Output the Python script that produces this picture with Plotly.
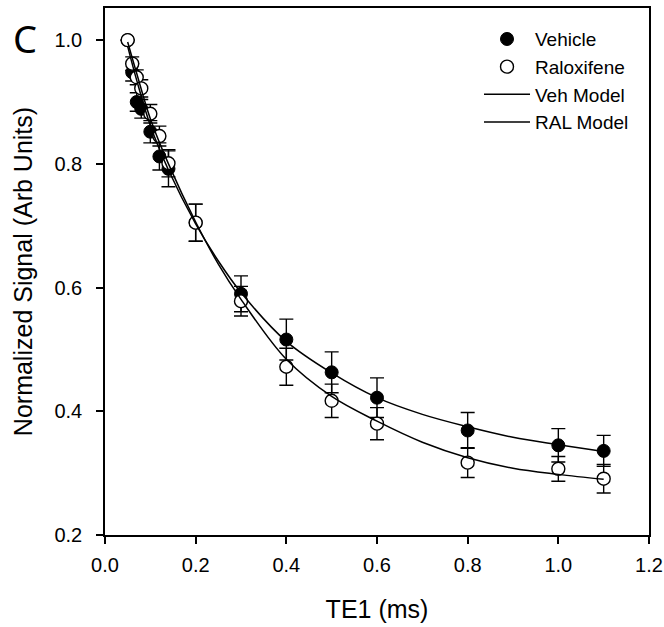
import plotly.graph_objects as go

# measured data
te = [0.05, 0.06, 0.07, 0.08, 0.1, 0.12, 0.14, 0.2, 0.3, 0.4, 0.5, 0.6, 0.8, 1.0, 1.1]
veh = [1.0, 0.948, 0.900, 0.889, 0.852, 0.812, 0.792, 0.705, 0.590, 0.516, 0.463, 0.422, 0.369, 0.345, 0.336]
veh_err = [0.0, 0.014, 0.015, 0.015, 0.018, 0.022, 0.029, 0.030, 0.029, 0.033, 0.033, 0.032, 0.029, 0.027, 0.025]
ral = [1.0, 0.962, 0.940, 0.922, 0.881, 0.845, 0.801, 0.705, 0.578, 0.472, 0.417, 0.380, 0.317, 0.307, 0.291]
ral_err = [0.0, 0.011, 0.012, 0.014, 0.015, 0.016, 0.022, 0.030, 0.024, 0.030, 0.027, 0.026, 0.024, 0.020, 0.023]

# model curves
model_te = [0.05, 0.07, 0.1, 0.14, 0.2, 0.25, 0.3, 0.4, 0.5, 0.6, 0.7, 0.8, 0.9, 1.0, 1.1]
veh_model = [0.990, 0.935, 0.862, 0.790, 0.703, 0.643, 0.592, 0.513, 0.462, 0.422, 0.395, 0.375, 0.358, 0.346, 0.335]
ral_model = [0.997, 0.946, 0.873, 0.800, 0.706, 0.638, 0.581, 0.484, 0.424, 0.384, 0.350, 0.325, 0.308, 0.298, 0.290]

FONT = "Arial, Liberation Sans, sans-serif"
err_style = dict(type="data", thickness=1.4, width=7, color="black")

fig = go.Figure()
fig.add_trace(go.Scatter(
    x=te, y=veh, mode="markers", name="Vehicle",
    error_y=dict(array=veh_err, **err_style),
    marker=dict(symbol="circle", size=13, color="black", line=dict(color="black", width=1)),
))
fig.add_trace(go.Scatter(
    x=te, y=ral, mode="markers", name="Raloxifene",
    error_y=dict(array=ral_err, **err_style),
    marker=dict(symbol="circle", size=13, color="white", line=dict(color="black", width=1.4)),
))
fig.add_trace(go.Scatter(
    x=model_te, y=veh_model, mode="lines", name="Veh Model",
    line=dict(color="black", width=1.5, shape="spline"),
))
fig.add_trace(go.Scatter(
    x=model_te, y=ral_model, mode="lines", name="RAL Model",
    line=dict(color="black", width=1.5, shape="spline"),
))

axis_style = dict(
    showline=True, linecolor="black", linewidth=1.5, mirror=True,
    ticks="outside", ticklen=7, tickwidth=1.5, tickcolor="black",
    showgrid=False, zeroline=False, automargin=False,
    tickfont=dict(family=FONT, size=20, color="black"),
)

fig.update_layout(
    width=664, height=627,
    paper_bgcolor="white", plot_bgcolor="white",
    font=dict(family=FONT, color="black"),
    margin=dict(l=105, r=15, t=8, b=92),
    xaxis=dict(range=[0, 1.2], dtick=0.2, tickformat=".1f", ticklabelstandoff=4,
               title=dict(text="TE1 (ms)", font=dict(size=25), standoff=26), **axis_style),
    yaxis=dict(range=[0.2, 1.052], tickvals=[0.2, 0.4, 0.6, 0.8, 1.0], tickformat=".1f",
               ticklabelstandoff=10,
               title=dict(text="Normalized Signal (Arb Units)", font=dict(size=25), standoff=15),
               **axis_style),
    legend=dict(x=0.6875, y=0.977, xanchor="left", yanchor="top",
                font=dict(size=19), bgcolor="rgba(0,0,0,0)", tracegroupgap=0,
                itemwidth=46),
    showlegend=True,
    annotations=[dict(text="C", xref="paper", yref="paper", x=-0.1465, y=0.944,
                      xanchor="center", yanchor="middle", showarrow=False,
                      font=dict(family="Noto Sans", size=38, color="black"))],
)

# drop the default page margin so the figure sits at the window origin
fig.write_html("out.html", config={"displayModeBar": False},
               post_script="document.body.style.margin = '0';")
